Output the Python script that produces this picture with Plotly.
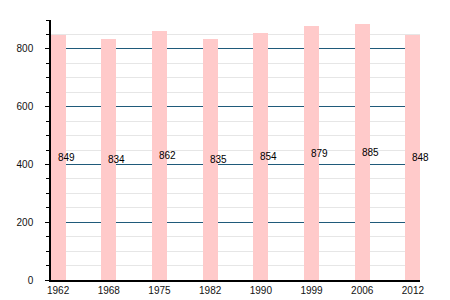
import plotly.graph_objects as go

years = ["1962", "1968", "1975", "1982", "1990", "1999", "2006", "2012"]
population = [849, 834, 862, 835, 854, 879, 885, 848]

fig = go.Figure()
fig.add_trace(go.Bar(
    x=years, y=population, width=0.3,
    marker=dict(color="#ffcaca", line=dict(width=0)),
    hoverinfo="x+y",
))

for i, v in enumerate(population):
    fig.add_annotation(x=i, y=v / 2, text=str(v), showarrow=False,
                       xref="x", yref="y",
                       xshift=8, font=dict(size=10, color="#000000"))

fig.update_layout(
    width=450, height=300,
    margin=dict(l=51, r=30, t=20, b=20),
    plot_bgcolor="white", paper_bgcolor="white",
    font=dict(family="Liberation Sans, Arial, sans-serif", size=10, color="#111111"),
    showlegend=False,
    bargap=0,
)
fig.update_xaxes(
    type="category", range=[-0.14, 7.14], automargin=False,
    showline=True, linecolor="black", linewidth=1.5,
    showgrid=False, ticks="", ticklen=0,
)
fig.update_yaxes(
    range=[0, 900], dtick=200, tick0=0, automargin=False,
    showline=True, linecolor="black", linewidth=1.5,
    showgrid=True, gridcolor="#1f5a7a", gridwidth=1,
    ticks="outside", ticklen=4, tickcolor="black", ticklabelstandoff=10,
    minor=dict(dtick=50, showgrid=True, gridcolor="#e6e6e6", gridwidth=1,
               ticks="outside", ticklen=3, tickcolor="black"),
    zeroline=False,
)

fig.write_html("out.html")
